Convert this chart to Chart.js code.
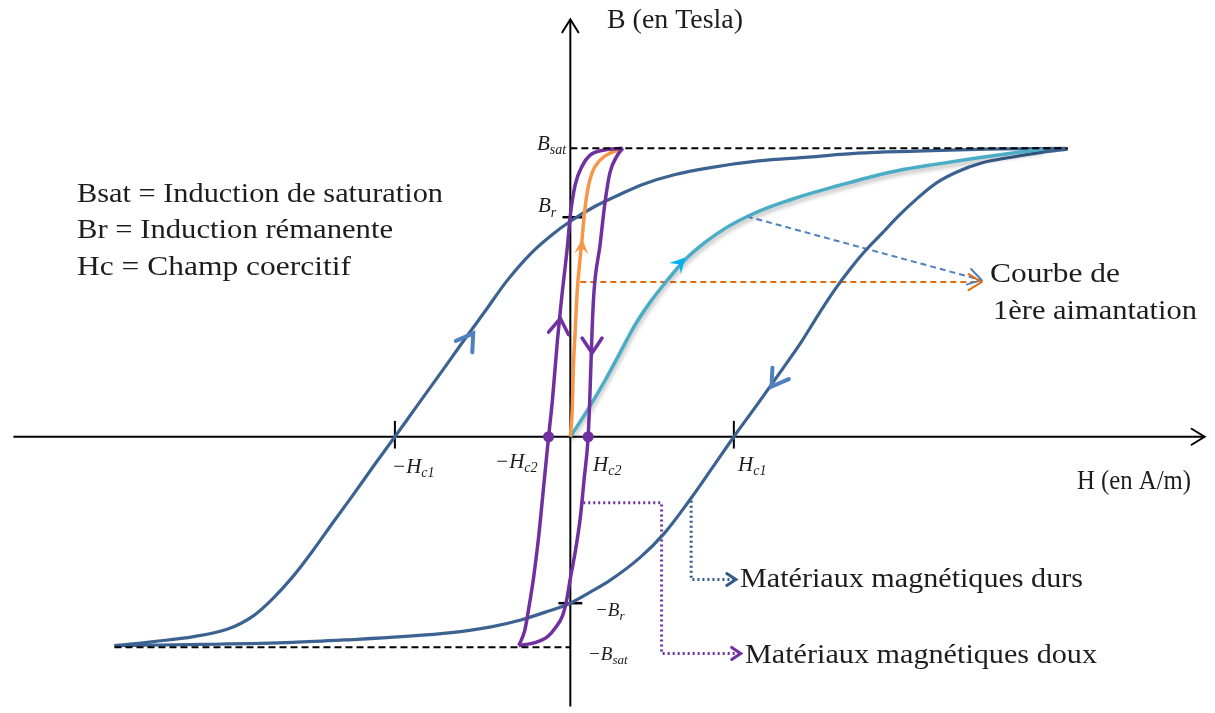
<!DOCTYPE html>
<html><head><meta charset="utf-8">
<script src="https://cdn.jsdelivr.net/npm/chart.js@4.4.0/dist/chart.umd.min.js"></script>
<style>html,body{margin:0;padding:0;background:#fff;}canvas{display:block;}</style>
</head><body>
<canvas id="c" width="1215" height="713"></canvas>
<script>
// ---- Data (H in units of Hc1, B in units of Bsat) ----
const BR = 0.761, BR_NEG = -0.577, HC1 = 1.0, HC1_NEG = -1.073, HC2 = 0.109, HC2_NEG = -0.133;
const BSAT = 1.0, BSAT_NEG = -0.730;

const hardRising = [[-2.788,-0.724],[-2.545,-0.710],[-2.303,-0.693],[-2.091,-0.666],[-1.939,-0.621],[-1.818,-0.560],[-1.697,-0.485],[-1.576,-0.396],[-1.455,-0.300],[-1.333,-0.205],[-1.2,-0.099],[-1.073,0],[-0.939,0.106],[-0.788,0.225],[-0.655,0.331],[-0.515,0.440],[-0.394,0.536],[-0.242,0.635],[-0.121,0.696],[0,0.747],[0.152,0.799],[0.303,0.840],[0.455,0.877],[0.636,0.908],[0.848,0.932],[1.152,0.956],[1.455,0.969],[1.758,0.983],[2.121,0.990],[2.545,0.997],[3.030,1.0]];
const hardFalling = [[3.042,0.997],[2.879,0.986],[2.697,0.969],[2.515,0.949],[2.364,0.918],[2.242,0.881],[2.127,0.829],[2.012,0.768],[1.903,0.703],[1.8,0.642],[1.709,0.580],[1.624,0.515],[1.521,0.427],[1.412,0.328],[1.285,0.225],[1.145,0.113],[1.0,0],[0.867,-0.109],[0.727,-0.222],[0.576,-0.334],[0.424,-0.420],[0.242,-0.498],[0.121,-0.539],[0,-0.577],[-0.152,-0.608],[-0.303,-0.635],[-0.485,-0.659],[-0.727,-0.679],[-1.030,-0.693],[-1.333,-0.703],[-1.697,-0.713],[-2.242,-0.720],[-2.788,-0.724]];
const firstMagHard = [[0,0],[0.109,0.096],[0.212,0.195],[0.303,0.290],[0.394,0.386],[0.485,0.464],[0.588,0.539],[0.697,0.611],[0.830,0.676],[0.952,0.724],[1.073,0.761],[1.212,0.795],[1.333,0.819],[1.485,0.846],[1.636,0.870],[1.818,0.898],[2.0,0.922],[2.242,0.945],[2.485,0.966],[2.697,0.983],[2.891,0.997]];
const firstMagSoft = [[0,0],[0.012,0.096],[0.018,0.232],[0.030,0.369],[0.042,0.505],[0.061,0.625],[0.073,0.693],[0.085,0.768],[0.103,0.846],[0.133,0.915],[0.182,0.959],[0.242,0.983],[0.321,0.997]];
const softRising = [[-0.315,-0.724],[-0.279,-0.672],[-0.255,-0.597],[-0.224,-0.485],[-0.194,-0.348],[-0.164,-0.177],[-0.133,0],[-0.109,0.130],[-0.079,0.334],[-0.055,0.471],[-0.018,0.659],[0,0.768],[0.030,0.874],[0.073,0.939],[0.121,0.976],[0.2,0.993],[0.321,1.0]];
const softFalling = [[0.321,1.0],[0.285,0.973],[0.242,0.915],[0.212,0.812],[0.182,0.666],[0.145,0.505],[0.133,0.369],[0.121,0.164],[0.109,0],[0.085,-0.143],[0.061,-0.280],[0.030,-0.399],[0,-0.491],[-0.024,-0.570],[-0.048,-0.621],[-0.091,-0.662],[-0.139,-0.693],[-0.212,-0.713],[-0.315,-0.724]];
const coercivePoints = [[HC2_NEG,0],[HC2,0]];

const hAxis = [[-3.406,0],[3.879,0]];
const bAxis = [[0,-0.935],[0,1.447]];
const satLineTop = [[0,BSAT],[3.042,BSAT]];
const satLineBottom = [[-2.788,BSAT_NEG],[0,BSAT_NEG]];
const tickBr = [[-0.048,BR],[0.073,BR]];
const tickBrNeg = [[-0.073,BR_NEG],[0.073,BR_NEG]];
const tickHc1 = [[HC1,-0.041],[HC1,0.055]];
const tickHc1Neg = [[HC1_NEG,-0.041],[HC1_NEG,0.055]];

const pointerFirstHard = [[1.079,0.764],[2.515,0.543]];
const pointerFirstSoft = [[0.061,0.536],[2.515,0.536]];
const pointerHard = [[0.739,-0.222],[0.739,-0.495],[1.012,-0.495]];
const pointerSoft = [[0.079,-0.229],[0.558,-0.229],[0.558,-0.751],[1.042,-0.751]];

// arrow marks on curves: [tipH, tipB, fromH, fromB]
const hardArrows = [[-0.594,0.358,-0.648,0.314],[1.230,0.174,1.282,0.216]];
const softArrows = [[-0.061,0.410,-0.073,0.355],[0.133,0.290,0.133,0.334]];
const firstHardArrows = [[0.703,0.621,0.642,0.584]];
const firstSoftArrows = [[0.073,0.686,0.067,0.635]];

// ---- helpers ----
const pts = a => a.map(p => ({x:p[0], y:p[1]}));
function line(data, color, width, extra) {
  return Object.assign({data: pts(data), showLine: true, borderColor: color, backgroundColor: color,
    borderWidth: width, pointRadius: 0, pointHoverRadius: 0, tension: 0, fill: false, clip: false}, extra || {});
}
const SMOOTH = {cubicInterpolationMode: 'monotone'};
const HARD = '#3B6291', ARROW_BLUE = '#4F81BD', LIGHT = '#4BACC6', ORANGE = '#F79646',
      PURPLE = '#7030A0', ORANGE_D = '#E46C0A', NAVY = '#2E5A8C';

const datasets = [
  line(coercivePoints, PURPLE, 0, {showLine:false, pointRadius:5.5, backgroundColor: PURPLE, borderColor: PURPLE, order: 1}),
  line(satLineTop, '#000', 2, {borderDash:[7,4], order: 3}),
  line(satLineBottom, '#000', 2, {borderDash:[7,4], order: 3}),
  line(softRising, PURPLE, 3.5, Object.assign({order: 10}, SMOOTH)),
  line(softFalling, PURPLE, 3.5, Object.assign({order: 10}, SMOOTH)),
  line(firstMagSoft, ORANGE, 3.5, Object.assign({order: 20}, SMOOTH)),
  line(firstMagHard, LIGHT, 3.5, Object.assign({order: 30, shadow: true}, SMOOTH)),
  line(hardRising, HARD, 3.2, Object.assign({order: 40}, SMOOTH)),
  line(hardFalling, HARD, 3.2, Object.assign({order: 40}, SMOOTH)),
  line(pointerFirstHard, ARROW_BLUE, 2, {borderDash:[6,4], order: 50, head:{len:13, half:8, w:2}}),
  line(pointerFirstSoft, ORANGE_D, 2, {borderDash:[6,4], order: 50, head:{len:13, half:8, w:2}}),
  line(pointerHard, NAVY, 3, {borderDash:[2,3], order: 50, head:{len:9, half:6, w:3}}),
  line(pointerSoft, PURPLE, 3, {borderDash:[2,3], order: 50, head:{len:9, half:6, w:3}}),
  line(tickBr, '#000', 2.5, {order: 60}),
  line(tickBrNeg, '#000', 2.5, {order: 60}),
  line(tickHc1, '#000', 2, {order: 60}),
  line(tickHc1Neg, '#000', 2, {order: 60}),
  line(hAxis, '#000', 2, {order: 100, head:{len:13, half:8, w:2}}),
  line(bAxis, '#000', 2, {order: 100, head:{len:13, half:8, w:2}})
];

function drawHead(ctx, tip, from, len, half, color, w, filled) {
  const dx = tip.x - from.x, dy = tip.y - from.y, d = Math.hypot(dx, dy) || 1;
  const ux = dx/d, uy = dy/d, px = -uy, py = ux;
  const bx = tip.x - ux*len, by = tip.y - uy*len;
  ctx.save();
  ctx.setLineDash([]);
  ctx.strokeStyle = color; ctx.fillStyle = color; ctx.lineWidth = w;
  ctx.lineJoin = 'miter'; ctx.lineCap = 'round';
  ctx.beginPath();
  ctx.moveTo(bx + px*half, by + py*half);
  ctx.lineTo(tip.x, tip.y);
  ctx.lineTo(bx - px*half, by - py*half);
  if (filled) {
    ctx.lineTo(tip.x - ux*len*0.6, tip.y - uy*len*0.6);
    ctx.closePath(); ctx.fill();
  } else ctx.stroke();
  ctx.restore();
}

function fitText(ctx, str, x, y, w, font) {
  ctx.font = font;
  const m = ctx.measureText(str).width;
  ctx.save(); ctx.translate(x, y); ctx.scale(w / m, 1); ctx.fillText(str, 0, 0); ctx.restore();
}
function subLabel(ctx, main, sub, x, y, size, subSize, dy) {
  ctx.font = 'italic ' + size + 'px "Liberation Serif"';
  ctx.fillText(main, x, y);
  const w = ctx.measureText(main).width;
  ctx.font = 'italic ' + subSize + 'px "Liberation Serif"';
  ctx.fillText(sub, x + w, y + dy);
}

const decor = {
  id: 'decor',
  beforeDatasetDraw(chart, args) {
    const ds = chart.data.datasets[args.index];
    if (ds.shadow) {
      const ctx = chart.ctx; ctx.save();
      ctx.shadowColor = 'rgba(0,0,0,0.28)'; ctx.shadowBlur = 4; ctx.shadowOffsetX = 1; ctx.shadowOffsetY = 3;
    }
  },
  afterDatasetDraw(chart, args) {
    const ds = chart.data.datasets[args.index];
    if (ds.shadow) chart.ctx.restore();
  },
  afterDatasetsDraw(chart) {
    const ctx = chart.ctx, sx = chart.scales.x, sy = chart.scales.y;
    const P = (h, b) => ({x: sx.getPixelForValue(h), y: sy.getPixelForValue(b)});
    chart.data.datasets.forEach(ds => {
      if (!ds.head) return;
      const n = ds.data.length, a = ds.data[n-2], b = ds.data[n-1];
      drawHead(ctx, P(b.x, b.y), P(a.x, a.y), ds.head.len, ds.head.half, ds.borderColor, ds.head.w, false);
    });
    hardArrows.forEach(r => drawHead(ctx, P(r[0], r[1]), P(r[2], r[3]), 16, 10, ARROW_BLUE, 4, false));
    softArrows.forEach(r => drawHead(ctx, P(r[0], r[1]), P(r[2], r[3]), 15, 10, PURPLE, 3.5, false));
    firstHardArrows.forEach(r => drawHead(ctx, P(r[0], r[1]), P(r[2], r[3]), 15, 8, '#00B0F0', 1, true));
    firstSoftArrows.forEach(r => drawHead(ctx, P(r[0], r[1]), P(r[2], r[3]), 15, 7, ORANGE, 1, true));

    ctx.save();
    ctx.fillStyle = '#1d1d1d'; ctx.textBaseline = 'alphabetic'; ctx.textAlign = 'left';
    const F = '27px "Liberation Serif"';
    fitText(ctx, 'B (en Tesla)', 607, 28, 136, F);
    fitText(ctx, 'H (en A/m)', 1077, 489, 114, F);
    fitText(ctx, 'Courbe de', 990, 282, 130, F);
    fitText(ctx, '1ère aimantation', 993, 319, 204, F);
    fitText(ctx, 'Bsat = Induction de saturation', 77, 202, 366, F);
    fitText(ctx, 'Br = Induction rémanente', 77, 238, 316, F);
    fitText(ctx, 'Hc = Champ coercitif', 77, 275, 274, F);
    fitText(ctx, 'Matériaux magnétiques durs', 740, 587, 343, F);
    fitText(ctx, 'Matériaux magnétiques doux', 745, 663, 352, F);
    subLabel(ctx, 'B', 'sat', 537, 150, 21, 14, 4);
    subLabel(ctx, 'B', 'r', 538, 212, 21, 14, 5);
    subLabel(ctx, '\u2212H', 'c1', 392, 473, 21, 14, 4);
    subLabel(ctx, '\u2212H', 'c2', 495, 468, 21, 14, 4);
    subLabel(ctx, 'H', 'c2', 593, 471, 21, 14, 4);
    subLabel(ctx, 'H', 'c1', 738, 471, 21, 14, 4);
    subLabel(ctx, '\u2212B', 'r', 595, 616, 19, 13, 4);
    subLabel(ctx, '\u2212B', 'sat', 588, 660, 19, 13, 4);
    ctx.restore();
  }
};

new Chart(document.getElementById('c'), {
  type: 'scatter',
  data: {datasets},
  options: {
    responsive: false, animation: false, devicePixelRatio: 1,
    layout: {padding: 0},
    plugins: {legend: {display: false}, tooltip: {enabled: false}},
    events: [],
    scales: {
      x: {type: 'linear', min: -3.4545, max: 3.9091, display: false},
      y: {type: 'linear', min: -0.9386, max: 1.4949, display: false}
    }
  },
  plugins: [decor]
});
</script>
</body></html>
